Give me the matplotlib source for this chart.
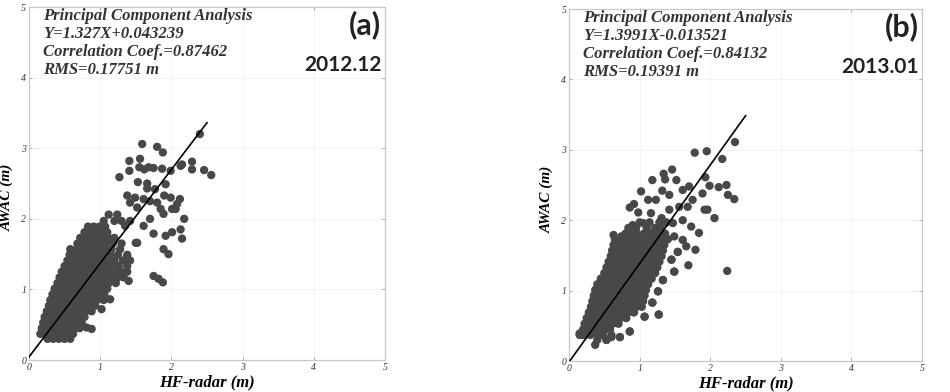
import matplotlib
matplotlib.use("Agg")
import matplotlib.pyplot as plt

# ---- panel (a) 2012.12 : HF-radar vs AWAC ----
a_x = [
    0.26, 0.34, 0.42, 0.50, 0.58,
    0.16, 0.22, 0.30, 0.38, 0.46, 0.54, 0.62,
    0.18, 0.25, 0.32, 0.40, 0.48, 0.56, 0.64, 0.71, 0.81, 0.88,
    0.20, 0.27, 0.35, 0.42, 0.50, 0.58, 0.66, 0.74,
    0.22, 0.29, 0.37, 0.45, 0.53, 0.61, 0.69, 0.78,
    0.25, 0.32, 0.40, 0.48, 0.56, 0.64, 0.72, 0.80, 0.88, 1.02,
    0.28, 0.35, 0.43, 0.51, 0.59, 0.67, 0.75, 0.83, 0.93,
    0.30, 0.38, 0.46, 0.54, 0.62, 0.70, 0.78, 0.86, 0.96, 1.05, 1.14,
    0.33, 0.41, 0.49, 0.57, 0.65, 0.73, 0.81, 0.89, 0.97, 1.06,
    0.36, 0.44, 0.52, 0.60, 0.68, 0.76, 0.84, 0.92, 1.00, 1.10,
    0.40, 0.48, 0.56, 0.64, 0.72, 0.80, 0.88, 0.96, 1.04, 1.12, 1.22, 1.40,
    0.43, 0.51, 0.59, 0.67, 0.75, 0.83, 0.91, 0.99, 1.07, 1.15, 1.25, 1.33,
    0.46, 0.54, 0.62, 0.70, 0.78, 0.86, 0.94, 1.02, 1.10, 1.20, 1.30, 1.38,
    0.50, 0.58, 0.66, 0.74, 0.82, 0.90, 0.98, 1.06, 1.15, 1.26, 1.38,
    0.54, 0.62, 0.70, 0.78, 0.86, 0.94, 1.02, 1.10, 1.20, 1.32, 1.42,
    0.57, 0.65, 0.73, 0.81, 0.89, 0.97, 1.05, 1.14, 1.25, 1.38,
    0.58, 0.67, 0.74, 0.82, 0.90, 0.98, 1.06, 1.16, 1.28,
    0.68, 0.76, 0.84, 0.92, 1.00, 1.08, 1.18, 1.30, 1.50,
    0.72, 0.80, 0.88, 0.96, 1.04, 1.12, 1.20,
    0.78, 0.86, 0.94, 1.02, 1.10,
    0.83, 0.91, 0.99, 1.07, 1.35,
    1.05, 1.20, 1.30, 1.42,
    1.12, 1.24,
    # scattered upper points
    2.40, 1.59, 1.80, 1.88, 1.41, 1.56, 1.41, 1.55, 1.62, 1.68, 1.75, 1.87,
    1.99, 2.13, 2.15, 2.29, 2.29, 2.46, 2.56, 1.27, 1.53, 1.66, 1.66, 1.77,
    1.92, 1.90, 1.99, 2.12, 2.08, 2.06, 1.38, 1.42, 1.49, 1.52, 1.61, 1.70,
    1.80, 1.85, 1.89, 2.01, 2.18, 2.13, 2.15, 2.01, 1.92, 1.75, 1.89, 1.96,
    1.75, 1.82, 1.88, 1.61, 1.52, 1.70,
]
a_y = [
    0.30, 0.30, 0.30, 0.30, 0.30,
    0.37, 0.37, 0.37, 0.37, 0.37, 0.37, 0.37,
    0.45, 0.45, 0.45, 0.45, 0.45, 0.45, 0.45, 0.45, 0.46, 0.44,
    0.53, 0.53, 0.53, 0.53, 0.53, 0.53, 0.53, 0.53,
    0.61, 0.61, 0.61, 0.61, 0.61, 0.61, 0.61, 0.61,
    0.69, 0.69, 0.69, 0.69, 0.69, 0.69, 0.69, 0.69, 0.69, 0.72,
    0.77, 0.77, 0.77, 0.77, 0.77, 0.77, 0.77, 0.77, 0.77,
    0.85, 0.85, 0.85, 0.85, 0.85, 0.85, 0.85, 0.85, 0.85, 0.85, 0.86,
    0.93, 0.93, 0.93, 0.93, 0.93, 0.93, 0.93, 0.93, 0.93, 0.93,
    1.01, 1.01, 1.01, 1.01, 1.01, 1.01, 1.01, 1.01, 1.01, 1.01,
    1.09, 1.09, 1.09, 1.09, 1.09, 1.09, 1.09, 1.09, 1.09, 1.09, 1.09, 1.12,
    1.17, 1.17, 1.17, 1.17, 1.17, 1.17, 1.17, 1.17, 1.17, 1.17, 1.17, 1.17,
    1.25, 1.25, 1.25, 1.25, 1.25, 1.25, 1.25, 1.25, 1.25, 1.25, 1.25, 1.25,
    1.33, 1.33, 1.33, 1.33, 1.33, 1.33, 1.33, 1.33, 1.33, 1.33, 1.33,
    1.41, 1.41, 1.41, 1.41, 1.41, 1.41, 1.41, 1.41, 1.41, 1.41, 1.41,
    1.49, 1.49, 1.49, 1.49, 1.49, 1.49, 1.49, 1.49, 1.49, 1.49,
    1.57, 1.57, 1.57, 1.57, 1.57, 1.57, 1.57, 1.57, 1.57,
    1.65, 1.65, 1.65, 1.65, 1.65, 1.65, 1.65, 1.65, 1.66,
    1.73, 1.73, 1.73, 1.73, 1.73, 1.73, 1.73,
    1.81, 1.81, 1.81, 1.81, 1.81,
    1.89, 1.89, 1.89, 1.89, 1.90,
    1.97, 1.97, 1.97, 1.97,
    2.06, 2.06,
    3.20, 3.06, 3.02, 2.94, 2.82, 2.85, 2.68, 2.73, 2.70, 2.73, 2.72, 2.71,
    2.68, 2.75, 2.77, 2.81, 2.70, 2.69, 2.62, 2.59, 2.52, 2.50, 2.43, 2.42,
    2.49, 2.33, 2.30, 2.28, 2.21, 2.14, 2.33, 2.23, 2.30, 2.16, 2.28, 2.25,
    2.23, 2.14, 2.07, 2.14, 2.00, 1.85, 1.72, 1.81, 1.76, 1.79, 1.57, 1.50,
    1.19, 1.15, 1.10, 1.90, 1.66, 2.00,
]

# ---- panel (b) 2013.01 ----
b_x = [
    0.40, 0.53, 0.37,
    0.15, 0.22, 0.30, 0.40, 0.48, 0.60, 0.72,
    0.20, 0.27, 0.35, 0.43, 0.51, 0.58, 0.86,
    0.22, 0.30, 0.38, 0.46, 0.54, 0.62, 0.70,
    0.25, 0.33, 0.41, 0.49, 0.57, 0.65, 0.73, 0.81, 1.07,
    0.28, 0.36, 0.44, 0.52, 0.60, 0.68, 0.76, 0.84, 0.92, 1.27,
    0.31, 0.39, 0.47, 0.55, 0.63, 0.71, 0.79, 0.87, 0.95, 1.03,
    0.33, 0.41, 0.49, 0.57, 0.65, 0.73, 0.81, 0.89, 0.97, 1.05, 1.18,
    0.35, 0.43, 0.51, 0.59, 0.67, 0.75, 0.83, 0.91, 0.99, 1.07,
    0.37, 0.45, 0.53, 0.61, 0.69, 0.77, 0.85, 0.93, 1.01, 1.09, 1.26,
    0.40, 0.48, 0.56, 0.64, 0.72, 0.80, 0.88, 0.96, 1.04, 1.12,
    0.45, 0.53, 0.61, 0.69, 0.77, 0.85, 0.93, 1.01, 1.09, 1.17, 1.33,
    0.50, 0.58, 0.66, 0.74, 0.82, 0.90, 0.98, 1.06, 1.14, 1.22,
    0.53, 0.61, 0.69, 0.77, 0.85, 0.93, 1.01, 1.09, 1.17, 1.25, 1.49,
    0.56, 0.64, 0.72, 0.80, 0.88, 0.96, 1.04, 1.12, 1.20, 1.28, 1.45,
    0.59, 0.67, 0.75, 0.83, 0.91, 0.99, 1.07, 1.15, 1.23, 1.31,
    0.61, 0.69, 0.77, 0.85, 0.93, 1.01, 1.09, 1.17, 1.25, 1.33, 1.54,
    0.63, 0.71, 0.79, 0.87, 0.95, 1.03, 1.11, 1.19, 1.27, 1.35,
    0.65, 0.75, 0.83, 0.91, 0.99, 1.07, 1.15, 1.23, 1.31, 1.40,
    0.80, 0.88, 0.96, 1.06, 1.16, 1.26, 1.36,
    0.84, 0.95, 1.10, 1.22, 1.30,
    1.00, 1.14, 1.28, 1.38,
    # scattered upper / right points
    2.35, 1.95, 1.78, 2.17, 1.93, 2.12, 2.23, 2.25, 2.34, 1.99, 1.89, 2.06,
    1.84, 1.79, 1.69, 2.24, 1.73, 1.46, 1.34, 1.36, 1.18, 1.52, 1.02, 0.86,
    0.92, 0.98, 1.12, 1.23, 1.32, 1.42, 1.61, 1.70, 1.75, 1.68, 1.56, 1.42,
    1.31, 1.16, 1.05, 0.90, 0.63, 0.74, 1.47, 1.61, 1.92, 1.96, 1.49, 1.61,
    1.66, 1.54, 1.45, 1.49, 1.33, 1.26, 1.18, 1.27, 1.07, 0.86, 0.72, 0.60,
    0.53, 0.20, 0.15,
]
b_y = [
    0.30, 0.30, 0.23,
    0.37, 0.37, 0.37, 0.37, 0.37, 0.37, 0.34,
    0.45, 0.45, 0.45, 0.45, 0.45, 0.45, 0.42,
    0.53, 0.53, 0.53, 0.53, 0.53, 0.53, 0.53,
    0.61, 0.61, 0.61, 0.61, 0.61, 0.61, 0.61, 0.61, 0.63,
    0.69, 0.69, 0.69, 0.69, 0.69, 0.69, 0.69, 0.69, 0.69, 0.66,
    0.77, 0.77, 0.77, 0.77, 0.77, 0.77, 0.77, 0.77, 0.77, 0.77,
    0.85, 0.85, 0.85, 0.85, 0.85, 0.85, 0.85, 0.85, 0.85, 0.85, 0.83,
    0.93, 0.93, 0.93, 0.93, 0.93, 0.93, 0.93, 0.93, 0.93, 0.93,
    1.01, 1.01, 1.01, 1.01, 1.01, 1.01, 1.01, 1.01, 1.01, 1.01, 0.99,
    1.09, 1.09, 1.09, 1.09, 1.09, 1.09, 1.09, 1.09, 1.09, 1.09,
    1.17, 1.17, 1.17, 1.17, 1.17, 1.17, 1.17, 1.17, 1.17, 1.17, 1.15,
    1.25, 1.25, 1.25, 1.25, 1.25, 1.25, 1.25, 1.25, 1.25, 1.25,
    1.33, 1.33, 1.33, 1.33, 1.33, 1.33, 1.33, 1.33, 1.33, 1.33, 1.27,
    1.41, 1.41, 1.41, 1.41, 1.41, 1.41, 1.41, 1.41, 1.41, 1.41, 1.44,
    1.49, 1.49, 1.49, 1.49, 1.49, 1.49, 1.49, 1.49, 1.49, 1.49,
    1.57, 1.57, 1.57, 1.57, 1.57, 1.57, 1.57, 1.57, 1.57, 1.57, 1.55,
    1.65, 1.65, 1.65, 1.65, 1.65, 1.65, 1.65, 1.65, 1.65, 1.65,
    1.73, 1.73, 1.73, 1.73, 1.73, 1.73, 1.73, 1.73, 1.73, 1.73,
    1.81, 1.81, 1.81, 1.81, 1.81, 1.81, 1.81,
    1.89, 1.89, 1.89, 1.89, 1.89,
    1.97, 1.97, 1.97, 1.97,
    3.11, 2.98, 2.96, 2.87, 2.61, 2.47, 2.50, 2.36, 2.30, 2.49, 2.38, 2.03,
    1.82, 1.58, 1.36, 1.28, 1.91, 2.72, 2.66, 2.58, 2.57, 2.57, 2.41, 2.18,
    2.23, 2.11, 2.29, 2.29, 2.42, 2.36, 2.43, 2.48, 2.29, 2.19, 2.19, 2.15,
    2.03, 2.10, 1.96, 1.93, 1.79, 1.77, 1.96, 2.00, 2.15, 2.15, 1.77, 1.72,
    1.63, 1.55, 1.44, 1.27, 1.15, 0.99, 0.83, 0.66, 0.63, 0.42, 0.34, 0.34,
    0.30, 0.37, 0.39,
]

# principal component fit lines, drawn over x = 0 .. 2.5
line_x = [0.0, 2.5]
fits = [(1.327, 0.043239), (1.3991, -0.013521)]
stats_text = [
    "Principal Component Analysis\nY=1.327X+0.043239\nCorrelation Coef.=0.87462\nRMS=0.17751 m",
    "Principal Component Analysis\nY=1.3991X-0.013521\nCorrelation Coef.=0.84132\nRMS=0.19391 m",
]
panel_tags = ["(a)", "(b)"]
months = ["2012.12", "2013.01"]
ticks = [0, 1, 2, 3, 4, 5]

SERIF = ["Liberation Serif", "DejaVu Serif"]
SANS = ["Lato", "DejaVu Sans"]

fig = plt.figure(figsize=(9.5, 3.92), dpi=100)
rects = [(0.0305, 0.0816, 0.3747, 0.9005), (0.599, 0.079, 0.3716, 0.898)]
data = [(a_x, a_y), (b_x, b_y)]

for i, rect in enumerate(rects):
    ax = fig.add_axes(rect)
    xs, ys = data[i]
    ax.scatter(xs, ys, s=36, c="#484848", edgecolors="none", zorder=2)
    k, q = fits[i]
    ax.plot(line_x, [k * v + q for v in line_x], c="black", lw=1.2, zorder=3)

    ax.set_xlim(0, 5); ax.set_ylim(0, 5)
    ax.set_xticks(ticks); ax.set_yticks(ticks)
    ax.set_xticklabels([str(t) for t in ticks], family=SERIF, style="italic", fontsize=7, color="#333333")
    ax.set_yticklabels([str(t) for t in ticks], family=SERIF, style="italic", fontsize=7, color="#333333")
    ax.tick_params(direction="in", top=True, right=True, length=2.5, width=0.6, color="#999999", pad=2)
    for sp in ax.spines.values():
        sp.set_color("#c8c8c8"); sp.set_linewidth(0.9)
    ax.grid(True, color="#f2f2f2", lw=0.6, zorder=0)
    ax.set_axisbelow(True)

    ax.set_xlabel("HF-radar (m)", family=SERIF, fontweight="bold", style="italic", fontsize=12, labelpad=2)
    ax.set_ylabel("AWAC (m)", family=SERIF, fontweight="bold", style="italic", fontsize=11)
    ax.yaxis.set_label_coords(-0.043, 0.46)

    ax.text(0.2, 4.98, stats_text[i], family=SERIF, fontweight="bold", style="italic",
            fontsize=12, color="#333333", va="top", ha="left", linespacing=1.16)
    ax.text(0.99, 0.99, panel_tags[i], transform=ax.transAxes, family=SANS, fontweight="bold",
            fontsize=22, va="top", ha="right", color="#222222")
    ax.text(0.99, 0.865, months[i], transform=ax.transAxes, family=SANS, fontweight="bold",
            fontsize=15, va="top", ha="right", color="#222222")

fig.savefig("out.png", dpi=100)
